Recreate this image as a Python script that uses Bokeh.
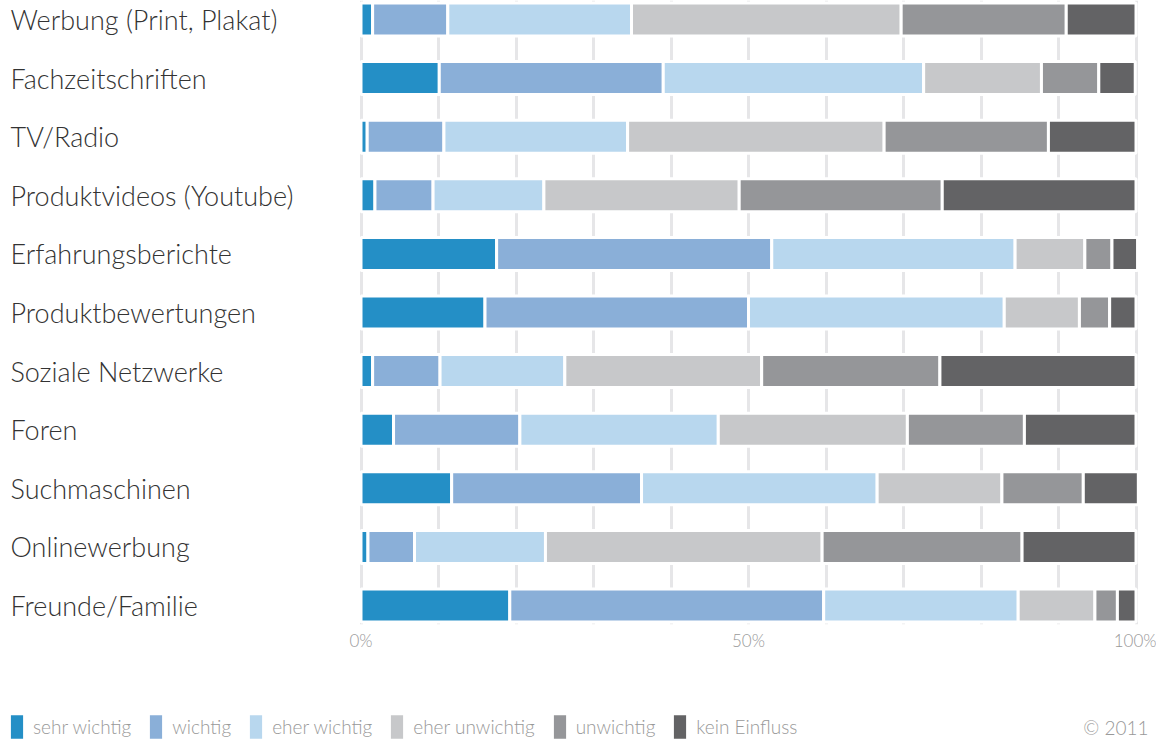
from bokeh.plotting import figure
from bokeh.layouts import column
from bokeh.models import (Range1d, FactorRange, FixedTicker, ColumnDataSource, Legend,
                          LegendItem, Label, PrintfTickFormatter)
from bokeh.core.properties import value
from bokeh.embed import file_html
from bokeh.resources import INLINE

# ---------------- data ----------------
categories = ["Werbung (Print, Plakat)", "Fachzeitschriften", "TV/Radio",
              "Produktvideos (Youtube)", "Erfahrungsberichte", "Produktbewertungen",
              "Soziale Netzwerke", "Foren", "Suchmaschinen", "Onlinewerbung",
              "Freunde/Familie"]
sehr_wichtig   = [1.5, 10.1, 0.8, 1.8, 17.5, 16.0, 1.5, 4.2, 11.7, 0.9, 19.2]
wichtig        = [9.7, 28.9, 9.9, 7.5, 35.5, 34.0, 8.7, 16.3, 24.5, 6.0, 40.5]
eher_wichtig   = [23.7, 33.6, 23.7, 14.3, 31.4, 33.0, 16.1, 25.6, 30.4, 16.9, 25.1]
eher_unwichtig = [34.8, 15.2, 33.1, 25.2, 9.0, 9.7, 25.4, 24.4, 16.1, 35.7, 9.9]
unwichtig      = [21.3, 7.4, 21.2, 26.2, 3.5, 3.9, 23.0, 15.1, 10.5, 25.8, 2.9]
kein_einfluss  = [9.0, 4.7, 11.3, 25.0, 3.3, 3.4, 25.3, 14.4, 7.1, 14.7, 2.4]

series_keys   = ["sehr_wichtig", "wichtig", "eher_wichtig", "eher_unwichtig", "unwichtig", "kein_einfluss"]
series_labels = ["sehr wichtig", "wichtig", "eher wichtig", "eher unwichtig", "unwichtig", "kein Einfluss"]
colors        = ["#248fc6", "#8aafd8", "#b8d7ee", "#c7c8ca", "#959699", "#636365"]
axis_ticks    = [0, 50, 100]
grid_ticks    = [0, 10, 20, 30, 40, 50, 60, 70, 80, 90, 100]
copyright_txt = "© 2011"

# ---------------- layout constants ----------------
W = 1156
FRAME_H = 624
BORDER_BOTTOM = 36
LEGEND_H = 81
ZERO_PX = 360.5
PX_PER_PCT = 7.75
ROW_PAD = -0.1758
BAR_H = 0.563
FONT = "Lato Light"

source = ColumnDataSource(dict(cat=categories, sehr_wichtig=sehr_wichtig, wichtig=wichtig,
                               eher_wichtig=eher_wichtig, eher_unwichtig=eher_unwichtig,
                               unwichtig=unwichtig, kein_einfluss=kein_einfluss))

# ---------------- main chart ----------------
p = figure(frame_width=W, frame_height=FRAME_H,
           x_range=Range1d(-ZERO_PX / PX_PER_PCT, (W - ZERO_PX) / PX_PER_PCT),
           y_range=FactorRange(factors=categories[::-1], range_padding=ROW_PAD,
                               range_padding_units="absolute"),
           y_axis_location=None, toolbar_location=None, output_backend="svg",
           min_border_left=0, min_border_right=0, min_border_top=0,
           min_border_bottom=BORDER_BOTTOM)
p.outline_line_color = None
p.background_fill_color = "white"
p.border_fill_color = "white"
p.extra_x_ranges = {"px": Range1d(0, W)}

renderers = p.hbar_stack(series_keys, y="cat", height=BAR_H, fill_color=colors,
                         line_color="white", line_width=3, source=source)

p.text(x=10, y="cat", text="cat", source=source, x_range_name="px",
       text_align="left", text_baseline="middle", text_font=value(FONT),
       text_font_size="27px", text_color="#333333")

p.xgrid.ticker = FixedTicker(ticks=grid_ticks)
p.xgrid.grid_line_color = "#e6e6e8"
p.xgrid.grid_line_width = 3
p.ygrid.grid_line_color = None

ax = p.xaxis[0]
ax.ticker = FixedTicker(ticks=axis_ticks)
ax.formatter = PrintfTickFormatter(format="%d%%")
ax.axis_line_color = None
ax.major_tick_line_color = None
ax.minor_tick_line_color = None
ax.major_tick_out = 0
ax.major_tick_in = 0
ax.major_label_standoff = 5
ax.major_label_text_font = FONT
ax.major_label_text_font_size = "17px"
ax.major_label_text_color = "#999999"

# ---------------- legend strip ----------------
p2 = figure(frame_width=W, frame_height=LEGEND_H,
            x_range=Range1d(0, 100), y_range=FactorRange(factors=categories),
            x_axis_location=None, y_axis_location=None, toolbar_location=None,
            output_backend="svg", min_border_left=0, min_border_right=0,
            min_border_top=0, min_border_bottom=0)
p2.outline_line_color = None
p2.xgrid.grid_line_color = None
p2.ygrid.grid_line_color = None
p2.background_fill_color = "white"
p2.border_fill_color = "white"

leg_renderers = p2.hbar_stack(series_keys, y="cat", height=BAR_H, fill_color=colors,
                              line_color="white", line_width=3, source=source)
for r in leg_renderers:
    r.visible = False

legend = Legend(items=[LegendItem(label=l, renderers=[r]) for l, r in zip(series_labels, leg_renderers)],
                orientation="horizontal", location=(7, -2),
                glyph_width=19, glyph_height=33, label_standoff=7, spacing=15,
                padding=0, margin=0, border_line_alpha=0, background_fill_alpha=0,
                inactive_fill_alpha=0,
                label_text_font=FONT, label_text_font_size="19px",
                label_text_color="#999999")
p2.add_layout(legend, "center")

p2.add_layout(Label(x=W - 8, y=14, x_units="screen", y_units="screen",
                    text=copyright_txt, text_align="right", text_baseline="middle",
                    text_font=FONT, text_font_size="19px", text_color="#999999"))

layout = column(p, p2, spacing=0)
open("out.html", "w").write(file_html(layout, INLINE))
